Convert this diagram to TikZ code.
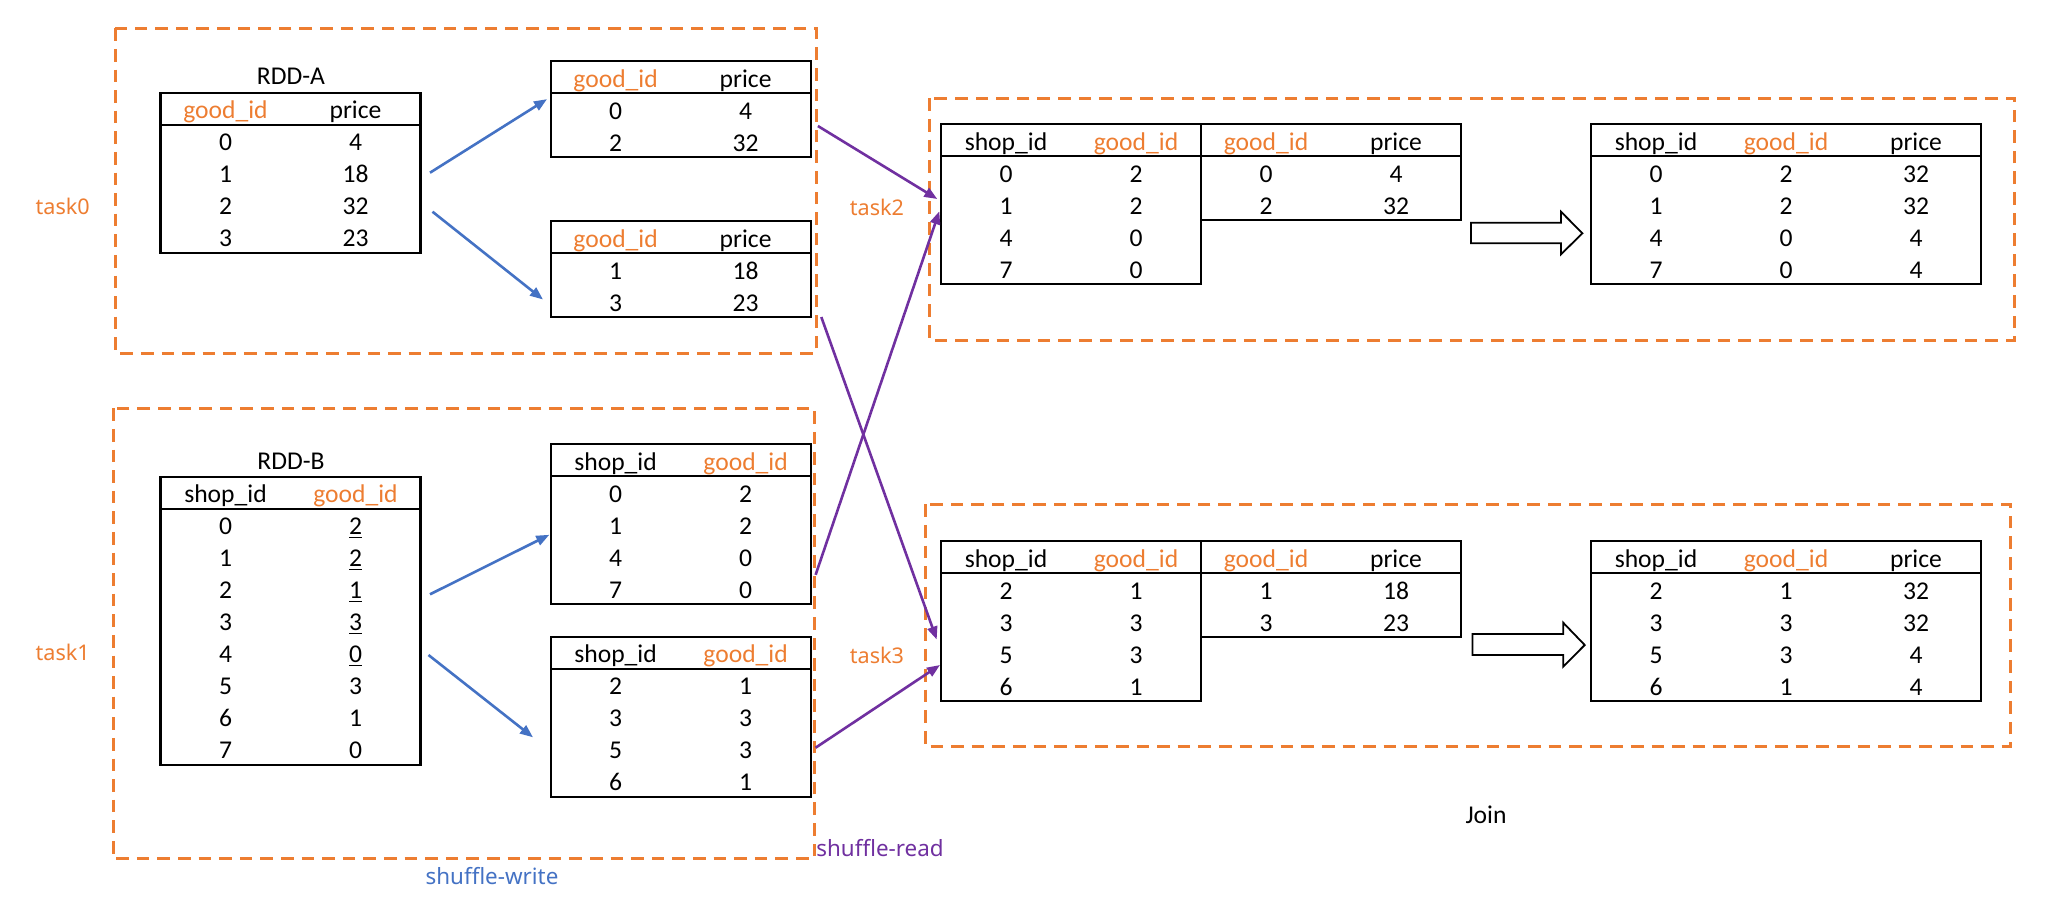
\documentclass[tikz,border=0pt]{standalone}
\usepackage{fontspec}
\setmainfont{Carlito}
\newfontfamily\labfont{Noto Sans}
\usetikzlibrary{calc,fit,arrows.meta}
\definecolor{corange}{HTML}{ED7D31}
\definecolor{cblue}{HTML}{4472C4}
\definecolor{cpurple}{HTML}{7030A0}
\newcommand\og[1]{\textcolor{corange}{#1}}
\newcommand\gid{\og{good\_id}}
\newcommand\sid{shop\_id}
\newcommand\ul[1]{\underline{#1}}
\newcommand\twotab[6]{%
  \foreach \a/\b [count=\i] in {#6} {
    \node[cell] (#1-\i-1) at (#2+65,#3+32*\i+26) {\a};
    \node[cell] (#1-\i-2) at (#2+195,#3+32*\i+26) {\b};
    \xdef\nrows{\i}
  }
  \node[cell] (#1-h1) at (#2+65,#3+26) {#4};
  \node[cell] (#1-h2) at (#2+195,#3+26) {#5};
  \coordinate (#1-nw) at (#2,#3);
  \coordinate (#1-se) at (#2+260,#3+32+32*\nrows);
  \node[frame, fit=(#1-nw)(#1-se)] (#1) {};
  \draw[tline] ($(#1-nw)+(0,32)$) -- ++(260,0);
}
\newcommand\threetab[3]{%
  \foreach \a/\b/\c [count=\i] in {#3} {
    \node[cell] (#1-\i-1) at (#2+65,\ytop+32*\i+26) {\a};
    \node[cell] (#1-\i-2) at (#2+195,\ytop+32*\i+26) {\b};
    \node[cell] (#1-\i-3) at (#2+325,\ytop+32*\i+26) {\c};
    \xdef\nrows{\i}
  }
  \node[cell] (#1-h1) at (#2+65,\ytop+26) {\sid};
  \node[cell] (#1-h2) at (#2+195,\ytop+26) {\gid};
  \node[cell] (#1-h3) at (#2+325,\ytop+26) {price};
  \coordinate (#1-nw) at (#2,\ytop);
  \coordinate (#1-se) at (#2+390,\ytop+32+32*\nrows);
  \node[frame, fit=(#1-nw)(#1-se)] (#1) {};
  \draw[tline] ($(#1-nw)+(0,32)$) -- ++(390,0);
}
\begin{document}
\begin{tikzpicture}[x=0.5pt,y=-0.5pt,
  cell/.style={anchor=base,inner sep=0pt,font=\fontsize{12.8}{14}\selectfont},
  frame/.style={draw,line width=1.1pt,inner sep=0pt,outer sep=0pt},
  tline/.style={line width=1.1pt},
  taskbox/.style={draw=corange,line width=1.5pt,dash pattern=on 6.3pt off 4pt},
  tasklab/.style={inner sep=0pt,text=corange,font=\labfont\fontsize{10.8}{13}\selectfont},
  barr/.style={draw=cblue,line width=1.3pt,-{Triangle[length=6.5pt,width=5pt]}},
  parr/.style={draw=cpurple,line width=1.3pt,-{Triangle[length=6.5pt,width=5pt]}},
  hollow/.style={draw=black,line width=0.9pt,fill=white}]
\useasboundingbox (0,0) rectangle (2066,916);

% task boxes
\draw[taskbox] (115.4,28.3) rectangle (816,353);
\draw[taskbox] (113,408.3) rectangle (814.5,858.3);
\draw[taskbox] (929.3,98.3) rectangle (2014.8,340);
\draw[taskbox] (925.5,504.3) rectangle (2010.2,746.5);

% labels
\node[tasklab] (t0) at (62.7,206.7) {task0};
\node[tasklab] (t1) at (62.7,652) {task1};
\node[tasklab] (t2) at (877,207.3) {task2};
\node[tasklab] (t3) at (877,655) {task3};
\node[cell,anchor=center] (rddA) at (291,76.7) {RDD-A};
\node[cell,anchor=center] (rddB) at (291,461) {RDD-B};
\node[tasklab,text=cblue,font=\labfont\fontsize{11.2}{13}\selectfont] (sw) at (492,876) {shuffle-write};
\node[tasklab,text=cpurple,font=\labfont\fontsize{11.2}{13}\selectfont,anchor=west] (sr) at (816,848) {shuffle-read};
\node[cell,anchor=center] (join) at (1486,815) {Join};

% tables
\twotab{A}{160.5}{92.7}{\gid}{price}{0/4,1/18,2/32,3/23}
\twotab{A0}{550.6}{61}{\gid}{price}{0/4,2/32}
\twotab{A1}{550.6}{221}{\gid}{price}{1/18,3/23}
\twotab{B}{160.5}{476.7}{\sid}{\gid}{0/\ul{2},1/\ul{2},2/\ul{1},3/\ul{3},4/\ul{0},5/3,6/1,7/0}
\twotab{B0}{550.6}{444.3}{\sid}{\gid}{0/2,1/2,4/0,7/0}
\twotab{B1}{550.6}{636.7}{\sid}{\gid}{2/1,3/3,5/3,6/1}
\twotab{J2L}{941}{124.3}{\sid}{\gid}{0/2,1/2,4/0,7/0}
\twotab{J2R}{1201}{124.3}{\gid}{price}{0/4,2/32}
\twotab{J3L}{941}{541}{\sid}{\gid}{2/1,3/3,5/3,6/1}
\twotab{J3R}{1201}{541}{\gid}{price}{1/18,3/23}
\def\ytop{124.3}
\threetab{R2}{1591}{0/2/32,1/2/32,4/0/4,7/0/4}
\def\ytop{541}
\threetab{R3}{1591}{2/1/32,3/3/32,5/3/4,6/1/4}

% hollow arrows
\draw[hollow] (1471,222.7) -- (1561,222.7) -- (1561,211.7) -- (1582.4,233.3) -- (1561,254.3) -- (1561,243.3) -- (1471,243.3) -- cycle;
\draw[hollow] (1472.5,634) -- (1563.2,634) -- (1563.2,622.7) -- (1584.7,645) -- (1563.2,666.7) -- (1563.2,655) -- (1472.5,655) -- cycle;

% shuffle-write arrows
\draw[barr] ($(A.east)+(9.5,0)$) -- ($(A0.west)+(-3.6,-9.85)$);
\draw[barr] ($(A.east)+(12,39)$) -- ($(A1.west)+(-7.6,30.5)$);
\draw[barr] ($(B.east)+(9.5,-26.4)$) -- ($(B0.west)+(-1.3,10.5)$);
\draw[barr] ($(B.east)+(8,34.3)$) -- ($(B1.west)+(-17.6,20.6)$);

% shuffle-read arrows
\draw[parr] ($(A0.east)+(7.3,17)$) -- ($(J2L.west)+(-3.7,-5.3)$);
\draw[parr] ($(A1.south east)+(10.7,0)$) -- ($(J3L.west)+(-4.3,18.5)$);
\draw[parr] ($(B0.east)+(5,50.5)$) -- ($(J2L.west)+(-1.7,7)$);
\draw[parr] ($(B1.east)+(5,31)$) -- ($(J3L.west)+(-1,44)$);
\end{tikzpicture}
\end{document}
